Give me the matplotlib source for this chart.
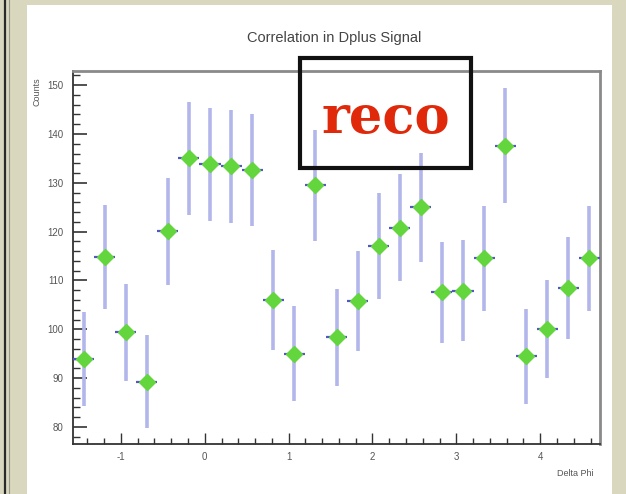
import numpy as np
import matplotlib.pyplot as plt
from matplotlib.patches import Rectangle

plt.rcParams['axes.unicode_minus'] = False

# counts per delta-phi bin (25 bins from -pi/2 to 3pi/2)
counts = [93.9, 114.8, 99.4, 89.3, 120.1, 135.0, 133.8, 133.4, 132.6, 106.0,
          95.0, 129.5, 98.4, 105.8, 117.0, 120.8, 125.0, 107.6, 107.9, 114.5,
          137.6, 94.5, 100.0, 108.5, 114.5]
x_ticks = [-1, 0, 1, 2, 3, 4]
y_ticks = [80, 90, 100, 110, 120, 130, 140, 150]
title = "Correlation in Dplus Signal"

W, H = 626, 494
fig = plt.figure(figsize=(W / 100, H / 100), dpi=100)
fig.patch.set_facecolor('#d9d7bd')

def fx(px):
    return px / W

def fy(py):
    return 1 - py / H

# white panel and dark edge line of the backdrop
fig.patches.append(Rectangle((fx(27), 0), fx(612) - fx(27), fy(5), transform=fig.transFigure,
                             facecolor='white', edgecolor='none', zorder=-2))
fig.lines.append(plt.Line2D([fx(5), fx(5)], [0, 1], transform=fig.transFigure,
                            color='#2a2a2a', lw=1.6, zorder=-2))
fig.lines.append(plt.Line2D([fx(9), fx(9)], [0, 1], transform=fig.transFigure,
                            color='#9a9a88', lw=0.8, zorder=-2))

ax = fig.add_axes([fx(73), fy(444), fx(600) - fx(73), fy(71) - fy(444)])
ax.set_facecolor('none')

edges = np.linspace(-np.pi / 2, 3 * np.pi / 2, len(counts) + 1)
centers = 0.5 * (edges[:-1] + edges[1:])
half = 0.5 * (edges[1] - edges[0])
y = np.array(counts)
err = np.sqrt(y)

ax.vlines(centers, y - err, y + err, color='#b3b6ea', lw=2.6, zorder=2)
ax.hlines(y, centers - half, centers + half, color='#5257c4', lw=1.6, zorder=3)
ax.plot(centers, y, 'D', color='#62d63c', ms=8.5, mec='#62d63c', zorder=4)

ax.set_xlim(-np.pi / 2, 3 * np.pi / 2)
ax.set_ylim(76.5, 152.9)
ax.set_xticks(x_ticks)
ax.set_xticks(np.arange(-1.4, 4.7, 0.2), minor=True)
ax.set_yticks(y_ticks)
ax.set_yticks(np.arange(78, 153, 2), minor=True)

fam = ['Liberation Sans', 'DejaVu Sans']
ax.tick_params(axis='both', which='both', direction='in', top=False, right=False,
               colors='#333333', labelcolor='#555555', labelsize=7)
ax.tick_params(axis='y', which='major', length=10, width=1.2, pad=7)
ax.tick_params(axis='y', which='minor', length=5, width=1.0)
ax.tick_params(axis='x', which='major', length=8, width=1.0, pad=6)
ax.tick_params(axis='x', which='minor', length=4, width=1.0)
for t in ax.get_xticklabels() + ax.get_yticklabels():
    t.set_family(fam)

for s in ['left', 'bottom']:
    ax.spines[s].set_color('#333333')
    ax.spines[s].set_linewidth(1.3)
for s in ['top', 'right']:
    ax.spines[s].set_color('#8a8a8a')
    ax.spines[s].set_linewidth(2.0)

fig.text(fx(334), fy(38), title, ha='center', va='center', fontsize=10.5,
         color='#444444', family=fam)
fig.text(fx(37), fy(77), "Counts", ha='center', va='top', rotation=90,
         fontsize=6.5, color='#555555', family=fam)
fig.text(fx(594), fy(473), "Delta Phi", ha='right', va='center',
         fontsize=6.5, color='#555555', family=fam)

# "reco" stamp
fig.patches.append(Rectangle((fx(300), fy(168)), fx(471) - fx(300), fy(58) - fy(168),
                             transform=fig.transFigure, facecolor='none',
                             edgecolor='#111111', lw=3.0, zorder=5))
fig.text(fx(386), fy(118), "reco", ha='center', va='center', fontsize=38,
         fontweight='heavy', family='DejaVu Serif', color='#e0290a', zorder=6)

fig.savefig('out.png', dpi=100, facecolor=fig.get_facecolor())
